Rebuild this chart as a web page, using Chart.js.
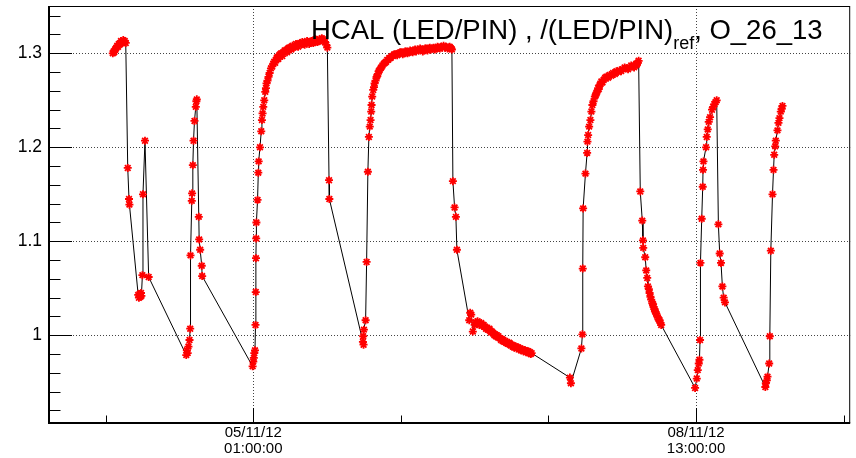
<!DOCTYPE html>
<html>
<head>
<meta charset="utf-8">
<script src="https://cdn.jsdelivr.net/npm/chart.js@4.4.1/dist/chart.umd.min.js"></script>
<style>
  html, body { margin: 0; padding: 0; background: #fff; }
  #wrap { width: 856px; height: 458px; }
</style>
</head>
<body>
<div id="wrap"><canvas id="ledPin" width="856" height="458"></canvas></div>
<script>
// time in hours, counted from 05/11/12 01:00:00
const hours = [
  -26.66, -26.50, -26.38, -26.20, -26.09, -25.95, -25.81, -25.66, -25.52, -25.38, -25.24, -25.10, -24.96, -24.82, -24.67, -24.53, -24.39, -24.20,
  -23.82, -23.58, -23.50, -21.84, -21.70, -21.56, -21.42, -21.30, -21.23, -21.04, -20.93, -20.55, -19.85,
  -12.72, -12.61, -12.45, -12.30, -12.10, -11.97, -11.91, -11.67, -11.61, -11.47, -11.34, -11.16, -10.91, -10.80, -10.72,
  -10.34, -10.27, -10.08, -9.78, -9.70,
  -0.13, 0.00, 0.10, 0.19, 0.32, 0.42, 0.47, 0.51, 0.55, 0.59, 0.81, 0.95, 1.02, 1.27, 1.51, 1.64, 1.76, 1.89, 2.08, 2.27,
  2.40, 2.51, 2.70, 2.89, 3.10, 3.35, 3.60, 3.80, 3.97, 4.15, 4.30, 4.45, 4.60, 4.75, 4.92, 5.10, 5.30, 5.50, 5.70, 5.95,
  6.18, 6.40, 6.60, 6.80, 7.00, 7.20, 7.43, 7.65, 7.90, 8.10, 8.30, 8.50, 8.70, 8.90, 9.10, 9.30, 9.50, 9.75, 9.96, 10.20,
  10.40, 10.60, 10.80, 11.00, 11.21, 11.40, 11.60, 11.80, 12.00, 12.20, 12.40, 12.60, 12.80, 13.00, 13.20, 13.40, 13.61,
  13.85, 14.05, 14.37, 14.43,
  20.80, 20.85, 20.92, 20.99, 21.31, 21.50, 21.74, 21.93, 22.10, 22.25, 22.37, 22.44, 22.56, 22.75, 22.90, 23.01, 23.20,
  23.39, 23.52, 23.65, 23.80, 23.96, 24.15, 24.30, 24.50, 24.77, 25.00, 25.20, 25.40, 25.60, 25.80, 26.04, 26.25, 26.50,
  26.75, 27.00, 27.30, 27.60, 27.85, 28.10, 28.35, 28.60, 28.80, 29.00, 29.25, 29.50, 29.75, 30.00, 30.25, 30.50, 30.70,
  30.90, 31.15, 31.39, 31.65, 31.90, 32.15, 32.40, 32.60, 32.80, 33.05, 33.28, 33.50, 33.70, 33.95, 34.20, 34.45, 34.70,
  34.95, 35.17, 35.40, 35.60, 35.85, 36.10, 36.35, 36.60, 36.85, 37.06, 37.25, 37.40, 37.55, 37.68,
  37.87, 38.19, 38.44, 38.63,
  40.97, 41.15, 41.35, 41.65, 42.00, 42.20, 42.35, 42.55, 42.73, 42.90, 43.10, 43.25, 43.40, 43.55, 43.70, 43.85, 44.00,
  44.15, 44.30, 44.45, 44.65, 44.80, 44.95, 45.10, 45.25, 45.40, 45.60, 45.75, 45.90, 46.05, 46.20, 46.35, 46.51, 46.70,
  46.85, 47.00, 47.15, 47.30, 47.45, 47.60, 47.78, 47.95, 48.10, 48.25, 48.40, 48.55, 48.70, 48.85, 49.03, 49.20, 49.35,
  49.50, 49.65, 49.80, 49.95, 50.10, 50.29, 50.45, 50.60, 50.80, 50.95, 51.10, 51.25, 51.40, 51.56, 51.75, 51.90, 52.05,
  52.20, 52.35, 52.50, 52.65, 52.81,
  60.07, 60.26, 62.25, 62.44, 62.51, 62.58, 63.02, 63.34, 63.40, 63.53, 63.72, 63.96, 64.15, 64.34, 64.55, 64.80, 64.95,
  65.10, 65.25, 65.42, 65.55, 65.70, 65.85, 66.04, 66.25, 66.50, 66.75, 66.99, 67.30, 67.60, 67.90, 68.26, 68.60, 68.90,
  69.20, 69.52, 69.80, 70.10, 70.45, 70.77, 71.10, 71.40, 71.70, 72.04, 72.25, 72.50, 72.65, 72.80, 72.95, 73.11,
  73.42, 73.80, 73.93, 73.98, 74.36, 74.55, 74.74, 74.87, 75.05, 75.19, 75.35, 75.50, 75.70, 75.85, 75.95, 76.10, 76.20,
  76.30, 76.44, 76.60, 76.75, 76.90, 77.08, 77.25, 77.39,
  83.82, 84.14, 84.33, 84.52, 84.65, 84.76, 84.84, 85.08, 85.27, 85.33, 85.41, 85.90, 86.03, 86.22, 86.41, 86.66, 87.03,
  87.25, 87.49, 87.70, 87.92, 88.24, 88.49, 88.74, 89.00, 89.24, 89.49,
  97.15, 97.24, 97.43, 97.56, 97.88, 98.00, 98.19, 98.51, 98.70, 98.83, 99.02, 99.13, 99.45, 99.64, 99.83, 100.08, 100.25, 100.40
];
// (LED/PIN) normalised to the reference run
const ratio = [
  1.300, 1.302, 1.301, 1.304, 1.305, 1.306, 1.308, 1.307, 1.310, 1.309, 1.311, 1.313, 1.312, 1.311, 1.314, 1.312, 1.313, 1.311,
  1.178, 1.145, 1.139, 1.043, 1.040, 1.044, 1.041, 1.045, 1.042, 1.064, 1.150, 1.207, 1.062,
  0.979, 0.984, 0.981, 0.988, 0.995, 1.007, 1.085, 1.143, 1.151, 1.181, 1.207, 1.228, 1.243, 1.249, 1.251,
  1.126, 1.102, 1.091, 1.074, 1.063,
  0.967, 0.972, 0.976, 0.981, 0.984, 1.011, 1.046, 1.082, 1.103, 1.120, 1.144, 1.173, 1.185, 1.200, 1.217, 1.229, 1.236, 1.243, 1.250, 1.259,
  1.263, 1.268, 1.271, 1.275, 1.279, 1.284, 1.286, 1.289, 1.291, 1.290, 1.293, 1.295, 1.296, 1.294, 1.298, 1.299, 1.300, 1.297, 1.301, 1.303,
  1.303, 1.301, 1.305, 1.306, 1.306, 1.304, 1.308, 1.306, 1.307, 1.310, 1.309, 1.307, 1.310, 1.311, 1.309, 1.312, 1.311, 1.309, 1.311, 1.313,
  1.312, 1.310, 1.311, 1.313, 1.313, 1.311, 1.312, 1.315, 1.314, 1.312, 1.313, 1.315, 1.314, 1.316, 1.315, 1.313, 1.312,
  1.309, 1.306, 1.165, 1.145,
  0.993, 0.999, 0.990, 1.006, 1.016, 1.078, 1.174, 1.211, 1.222, 1.229, 1.238, 1.245, 1.254, 1.261, 1.264, 1.268, 1.271,
  1.275, 1.276, 1.278, 1.281, 1.282, 1.284, 1.285, 1.287, 1.289, 1.290, 1.291, 1.293, 1.293, 1.295, 1.295, 1.297, 1.297,
  1.299, 1.299, 1.298, 1.300, 1.301, 1.301, 1.299, 1.300, 1.302, 1.302, 1.300, 1.301, 1.303, 1.302, 1.301, 1.303, 1.304,
  1.302, 1.304, 1.303, 1.305, 1.304, 1.302, 1.303, 1.305, 1.305, 1.303, 1.305, 1.306, 1.304, 1.305, 1.306, 1.304, 1.305,
  1.307, 1.306, 1.305, 1.307, 1.306, 1.308, 1.306, 1.307, 1.305, 1.306, 1.307, 1.306, 1.305, 1.304,
  1.164, 1.136, 1.126, 1.091,
  1.016, 1.024, 1.022, 1.004, 1.011, 1.014, 1.013, 1.015, 1.013, 1.011, 1.012, 1.013, 1.010, 1.011, 1.011, 1.009, 1.009,
  1.007, 1.008, 1.006, 1.006, 1.007, 1.005, 1.003, 1.004, 1.003, 1.002, 1.000, 1.001, 0.999, 1.000, 0.998, 0.999, 0.997,
  0.997, 0.995, 0.996, 0.994, 0.995, 0.993, 0.994, 0.992, 0.992, 0.991, 0.991, 0.992, 0.991, 0.989, 0.990, 0.988, 0.989,
  0.987, 0.988, 0.988, 0.986, 0.987, 0.987, 0.985, 0.986, 0.984, 0.985, 0.985, 0.983, 0.984, 0.984, 0.982, 0.983, 0.982,
  0.983, 0.981, 0.982, 0.980, 0.981,
  0.955, 0.949, 0.986, 1.001, 1.071, 1.135, 1.172, 1.194, 1.206, 1.213, 1.222, 1.229, 1.238, 1.245, 1.249, 1.254, 1.255,
  1.258, 1.259, 1.263, 1.262, 1.266, 1.267, 1.270, 1.269, 1.272, 1.274, 1.275, 1.274, 1.277, 1.276, 1.279, 1.278, 1.281,
  1.280, 1.282, 1.281, 1.283, 1.285, 1.284, 1.283, 1.285, 1.287, 1.286, 1.285, 1.287, 1.289, 1.288, 1.290, 1.292,
  1.153, 1.122, 1.101, 1.093, 1.083, 1.069, 1.061, 1.052, 1.049, 1.045, 1.041, 1.038, 1.034, 1.033, 1.030, 1.028, 1.026,
  1.025, 1.023, 1.021, 1.019, 1.017, 1.016, 1.013, 1.011,
  0.944, 0.954, 0.963, 0.970, 0.974, 0.995, 1.077, 1.124, 1.158, 1.176, 1.185, 1.200, 1.211, 1.219, 1.227, 1.232, 1.240,
  1.243, 1.246, 1.248, 1.250, 1.118, 1.087, 1.077, 1.052, 1.040, 1.035,
  0.945, 0.949, 0.952, 0.956, 0.970, 0.999, 1.090, 1.150, 1.176, 1.192, 1.201, 1.207, 1.218, 1.226, 1.231, 1.238, 1.241, 1.244
];

const timeTicks = [-28, 0, 28, 56, 84, 112];
const labelledTimes = [0, 84];
const ratioTicks = [1.0, 1.1, 1.2, 1.3];
const ratioLabels = ['1', '1.1', '1.2', '1.3'];

const t0 = Date.UTC(2012, 10, 5, 1, 0, 0);
const FONT = '"Liberation Sans", Arial, Helvetica, sans-serif';

function stamp(h) {
  const d = new Date(t0 + h * 3600000);
  const p = n => String(n).padStart(2, '0');
  return [
    p(d.getUTCDate()) + '/' + p(d.getUTCMonth() + 1) + '/' + p(d.getUTCFullYear() % 100),
    p(d.getUTCHours()) + ':' + p(d.getUTCMinutes()) + ':' + p(d.getUTCSeconds())
  ];
}

function seg(ctx, x1, y1, x2, y2) {
  ctx.beginPath();
  ctx.moveTo(x1, y1);
  ctx.lineTo(x2, y2);
  ctx.stroke();
}

// ROOT-like frame: dotted grid, inward ticks, axis lines and the title
const rootFrame = {
  id: 'rootFrame',
  beforeDatasetsDraw(chart) {
    const { ctx, chartArea: a, scales: { x, y } } = chart;
    ctx.save();
    ctx.strokeStyle = '#444';
    ctx.lineWidth = 1;
    ctx.setLineDash([1, 2]);
    ratioTicks.forEach(v => {
      const py = Math.round(y.getPixelForValue(v)) + 0.5;
      seg(ctx, a.left, py, a.right, py);
    });
    labelledTimes.forEach(v => {
      const px = Math.round(x.getPixelForValue(v)) + 0.5;
      seg(ctx, px, a.top, px, a.bottom);
    });
    ctx.restore();
  },
  afterDatasetsDraw(chart) {
    const { ctx, chartArea: a, scales: { x, y } } = chart;
    ctx.save();
    ctx.strokeStyle = '#000';
    ctx.lineWidth = 1;

    // y ticks: major every 0.1, minor every 0.02
    for (let k = 46; k <= 67; k++) {
      const v = k / 50;
      const py = Math.round(y.getPixelForValue(v)) + 0.5;
      const major = k % 5 === 0;
      seg(ctx, a.left, py, a.left + (major ? 23 : 11.5), py);
    }
    // x ticks
    timeTicks.forEach(v => {
      const px = Math.round(x.getPixelForValue(v)) + 0.5;
      const major = labelledTimes.includes(v);
      seg(ctx, px, a.bottom, px, a.bottom - (major ? 15 : 7.5));
    });

    ctx.strokeRect(a.left + 0.5, a.top + 0.5, a.right - a.left - 1, a.bottom - a.top - 1);
    ctx.lineWidth = 2;
    seg(ctx, a.left, a.top, a.left, a.bottom + 1);
    seg(ctx, a.left - 1, a.bottom, a.right, a.bottom);

    // title with subscript
    ctx.fillStyle = '#000';
    ctx.textBaseline = 'alphabetic';
    let tx = 311;
    const ty = 38.5;
    ctx.font = '27.5px ' + FONT;
    const t1 = 'HCAL (LED/PIN) , /(LED/PIN)';
    ctx.fillText(t1, tx, ty);
    tx += ctx.measureText(t1).width;
    ctx.font = '18px ' + FONT;
    ctx.fillText('ref', tx, ty + 10);
    tx += ctx.measureText('ref').width;
    ctx.font = '27.5px ' + FONT;
    ctx.fillText(', O_26_13', tx, ty);
    ctx.restore();
  }
};

new Chart('ledPin', {
  type: 'scatter',
  data: {
    datasets: [{
      data: hours.map((h, i) => ({ x: h, y: ratio[i] })),
      showLine: true,
      borderColor: '#000',
      borderWidth: 1,
      tension: 0,
      pointStyle: 'star',
      pointRadius: 4,
      pointBorderColor: '#ff0000',
      pointBackgroundColor: '#ff0000',
      pointBorderWidth: 1.8
    }]
  },
  options: {
    responsive: false,
    animation: false,
    events: [],
    layout: { padding: { top: 6, right: 3, left: 0, bottom: 0 } },
    plugins: {
      legend: { display: false },
      tooltip: { enabled: false }
    },
    scales: {
      x: {
        type: 'linear',
        min: -38.76,
        max: 113.25,
        afterBuildTicks: s => { s.ticks = timeTicks.map(v => ({ value: v })); },
        afterFit: s => { s.height = 35; s.paddingLeft = 0; s.paddingRight = 0; },
        grid: { display: false, drawTicks: false },
        border: { display: false },
        ticks: {
          autoSkip: false,
          maxRotation: 0,
          padding: 2,
          color: '#000',
          font: { family: FONT, size: 15, lineHeight: '16px' },
          callback: v => labelledTimes.includes(v) ? stamp(v) : ''
        }
      },
      y: {
        min: 0.9067,
        max: 1.3503,
        afterBuildTicks: s => { s.ticks = ratioTicks.map(v => ({ value: v })); },
        afterFit: s => { s.width = 49; s.paddingTop = 0; s.paddingBottom = 0; },
        grid: { display: false, drawTicks: false },
        border: { display: false },
        ticks: {
          padding: 7,
          color: '#000',
          font: { family: FONT, size: 17.5 },
          callback: (v, i) => ratioLabels[i]
        }
      }
    }
  },
  plugins: [rootFrame]
});
</script>
</body>
</html>
